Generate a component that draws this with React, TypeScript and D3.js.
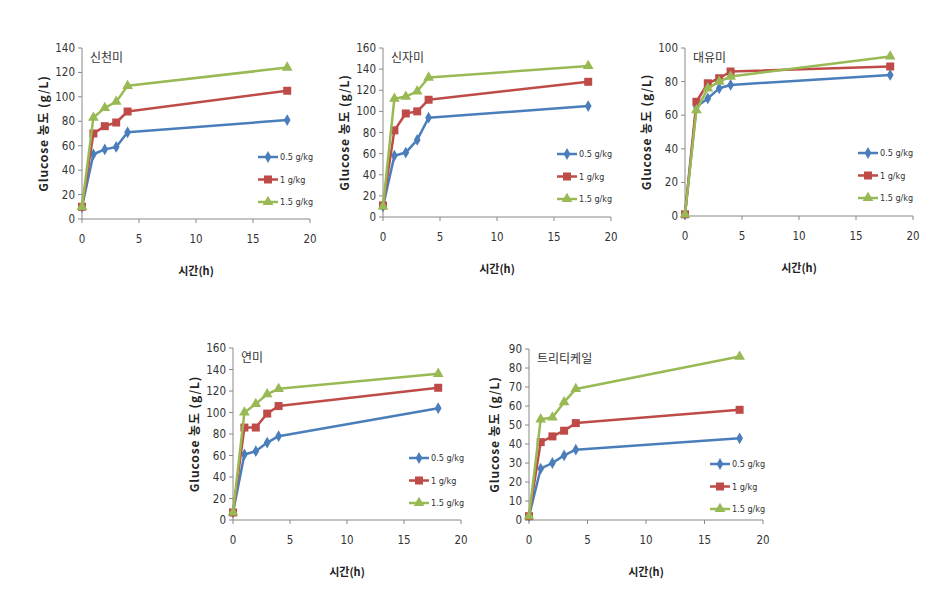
import React from "react";
import * as d3 from "d3";

// time points (h)
const hours = [0, 1, 2, 3, 4, 18];
const doses = ["0.5 g/kg", "1 g/kg", "1.5 g/kg"];
const xTicks = [0, 5, 10, 15, 20];

// glucose (g/L) per dose, one array per rice variety
const sincheonmi = [
  [10, 53, 57, 59, 71, 81],
  [10, 70, 76, 79, 88, 105],
  [10, 83, 91, 96, 109, 124],
];
const sinjami = [
  [10, 58, 61, 73, 94, 105],
  [11, 82, 98, 100, 111, 128],
  [10, 112, 114, 119, 132, 143],
];
const daeyumi = [
  [1, 65, 70, 76, 78, 84],
  [1, 68, 79, 82, 86, 89],
  [1, 63, 76, 80, 83, 95],
];
const yeonmi = [
  [7, 61, 64, 72, 78, 104],
  [7, 86, 86, 99, 106, 123],
  [7, 100, 108, 117, 122, 136],
];
const triticale = [
  [2, 27, 30, 34, 37, 43],
  [2, 41, 44, 47, 51, 58],
  [2, 53, 54, 62, 69, 86],
];

const colors = ["#4A7EBB", "#BE4B48", "#98B954"];
const symbols = [d3.symbolDiamond, d3.symbolSquare, d3.symbolTriangle];
const symSize = [40, 64, 50];

const panels = [
  { name: "신천미", data: sincheonmi, yMax: 140, yStep: 20, x0: 82, x1: 310, y0: 219, y1: 48, legX: 258, legY: 157, titleX: 44 },
  { name: "신자미", data: sinjami, yMax: 160, yStep: 20, x0: 383, x1: 611, y0: 217, y1: 48, legX: 557, legY: 154, titleX: 345 },
  { name: "대유미", data: daeyumi, yMax: 100, yStep: 20, x0: 685, x1: 913, y0: 216, y1: 48, legX: 858, legY: 153, titleX: 647 },
  { name: "연미", data: yeonmi, yMax: 160, yStep: 20, x0: 233, x1: 461, y0: 520, y1: 348, legX: 409, legY: 458, titleX: 195 },
  { name: "트리티케일", data: triticale, yMax: 90, yStep: 10, x0: 529, x1: 763, y0: 520, y1: 349, legX: 710, legY: 464, titleX: 495 },
];

const tickFont = "'DejaVu Sans Condensed', 'Liberation Sans Narrow', 'Liberation Sans', sans-serif";
const korFont = "'Noto Sans CJK KR', 'Noto Sans', sans-serif";

function Panel({ p }) {
  const x = d3.scaleLinear().domain([0, 20]).range([p.x0, p.x1]);
  const y = d3.scaleLinear().domain([0, p.yMax]).range([p.y0, p.y1]);
  const yTicks = d3.range(0, p.yMax + 1, p.yStep);
  const line = d3
    .line<number>()
    .x((_, i) => x(hours[i]))
    .y((d) => y(d));
  const midY = (p.y0 + p.y1) / 2;

  return (
    <g>
      {/* axes */}
      <line x1={p.x0} x2={p.x0} y1={p.y1} y2={p.y0} stroke="#888" strokeWidth={1} />
      <line x1={p.x0} x2={p.x1} y1={p.y0} y2={p.y0} stroke="#888" strokeWidth={1} />
      {yTicks.map((t) => (
        <g key={"y" + t}>
          <line x1={p.x0 - 4} x2={p.x0} y1={y(t)} y2={y(t)} stroke="#888" />
          <text x={p.x0 - 7} y={y(t)} dy="0.35em" textAnchor="end" fontSize={11.5} fill="#333" fontFamily={tickFont}>
            {t}
          </text>
        </g>
      ))}
      {xTicks.map((t) => (
        <g key={"x" + t}>
          <line x1={x(t)} x2={x(t)} y1={p.y0} y2={p.y0 + 4} stroke="#888" />
          <text x={x(t)} y={p.y0 + 24} textAnchor="middle" fontSize={11.5} fill="#333" fontFamily={tickFont}>
            {t}
          </text>
        </g>
      ))}

      {/* series */}
      {p.data.map((s, k) => (
        <g key={"s" + k}>
          <path d={line(s) || ""} fill="none" stroke={colors[k]} strokeWidth={2.5} strokeLinejoin="round" />
          {s.map((v, i) => (
            <path
              key={i}
              d={d3.symbol(symbols[k], symSize[k])() || ""}
              transform={`translate(${x(hours[i])},${y(v)})`}
              fill={colors[k]}
            />
          ))}
        </g>
      ))}

      {/* variety label */}
      <text x={p.x0 + 8} y={p.y1 + 14} fontSize={12} fill="#333" fontFamily={korFont}>
        {p.name}
      </text>

      {/* legend */}
      {doses.map((d, k) => {
        const ly = p.legY + k * 22.5;
        return (
          <g key={"l" + k}>
            <line x1={p.legX} x2={p.legX + 20} y1={ly} y2={ly} stroke={colors[k]} strokeWidth={2.5} />
            <path d={d3.symbol(symbols[k], symSize[k])() || ""} transform={`translate(${p.legX + 10},${ly})`} fill={colors[k]} />
            <text x={p.legX + 22} y={ly} dy="0.35em" fontSize={9} fill="#333" fontFamily={tickFont}>
              {d}
            </text>
          </g>
        );
      })}

      {/* axis titles */}
      <text
        transform={`translate(${p.titleX},${midY}) rotate(-90)`}
        textAnchor="middle"
        dy="0.35em"
        fontSize={12}
        fontWeight="bold"
        letterSpacing={0.9}
        fill="#222"
        fontFamily={korFont}
      >
        Glucose 농도 (g/L)
      </text>
      <text x={(p.x0 + p.x1) / 2} y={p.y0 + 56} textAnchor="middle" fontSize={11} fontWeight="bold" fill="#222" fontFamily={korFont}>
        시간(h)
      </text>
    </g>
  );
}

export default function App() {
  return (
    <svg width={949} height={611} style={{ position: "absolute", left: 0, top: 0, background: "#fff" }}>
      <rect width={949} height={611} fill="#fff" />
      {panels.map((p) => (
        <Panel key={p.name} p={p} />
      ))}
    </svg>
  );
}
